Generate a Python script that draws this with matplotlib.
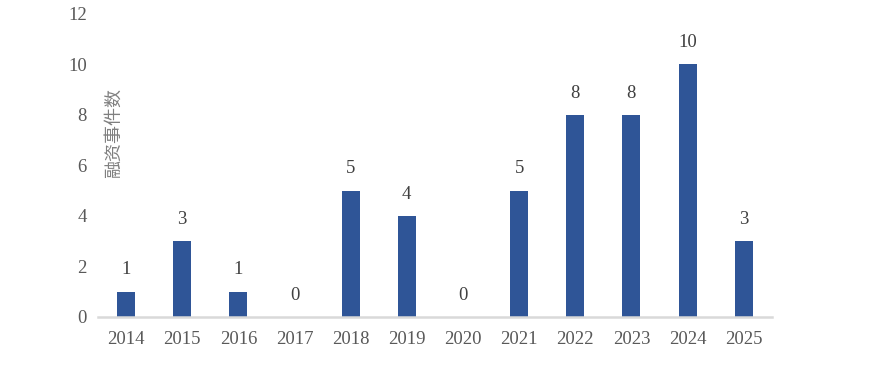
import matplotlib.pyplot as plt

years = ['2014', '2015', '2016', '2017', '2018', '2019', '2020', '2021', '2022', '2023', '2024', '2025']
counts = [1, 3, 1, 0, 5, 4, 0, 5, 8, 8, 10, 3]
yticks = [0, 2, 4, 6, 8, 10, 12]

plt.rcParams['font.family'] = ['Liberation Serif', 'Noto Sans CJK SC']

fig = plt.figure(figsize=(8.78, 3.88), dpi=100)
ax = fig.add_axes([0.1116, 0.183, 0.7674, 0.781])

x = range(len(years))
ax.bar(x, counts, width=0.32, color='#2F5597', zorder=2)
for i, v in enumerate(counts):
    ax.text(i, v + 0.87, str(v), ha='center', va='center', fontsize=13.5, color='#404040')

ax.set_xlim(-0.5, len(years) - 0.5)
ax.set_ylim(0, 12)
ax.set_xticks(list(x))
ax.set_xticklabels(years)
ax.set_yticks(yticks)
ax.tick_params(axis='both', length=0, labelsize=13.5, labelcolor='#595959')
ax.tick_params(axis='x', pad=10)
ax.tick_params(axis='y', pad=8)

for s in ['top', 'right', 'left']:
    ax.spines[s].set_visible(False)
ax.spines['bottom'].set_color('#D9D9D9')
ax.spines['bottom'].set_linewidth(1.8)

fig.text(0.129, 0.657, '融资事件数', rotation=90, ha='center', va='center',
         fontsize=13, color='#7F7F7F', family=['Noto Sans CJK SC'])

fig.savefig('out.png', dpi=100)
